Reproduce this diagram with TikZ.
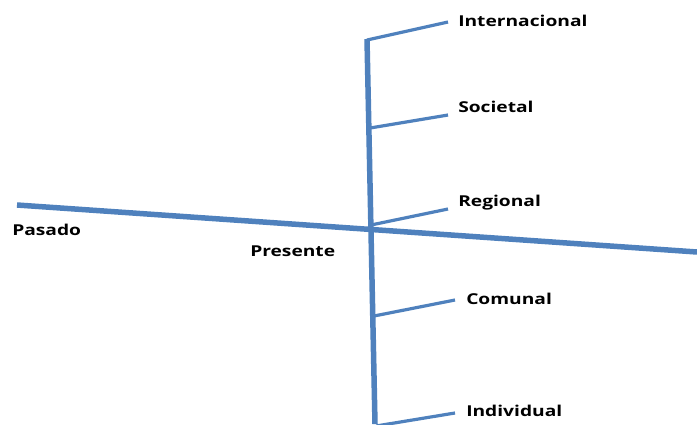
\documentclass[tikz,border=0pt]{standalone}
\usepackage{fontspec}
\setmainfont{Open Sans}
\definecolor{lineblue}{HTML}{4F81BD}
\tikzset{
  axis/.style={draw=lineblue, line width=5.5pt},
  branch/.style={draw=lineblue, line width=3.2pt},
  lbl/.style={anchor=west, inner sep=0pt, xscale=1.28, transform shape,
    font=\bfseries\fontsize{15}{18}\selectfont}
}
\begin{document}
\begin{tikzpicture}[x=1pt, y=-1pt]
\useasboundingbox (0,0) rectangle (697,424);
% axes
\coordinate (h1) at (17,205);
\coordinate (h2) at (697,252);
\coordinate (v1) at (367,39);
\coordinate (v2) at (375,424);
\draw[axis] (h1) -- (h2);
\draw[axis] (v1) -- (v2);
% branch points
\coordinate (b1) at (367,40);
\coordinate (e1) at (448,22);
\coordinate (b2) at (370,128);
\coordinate (e2) at (448,115);
\coordinate (b3) at (371,225);
\coordinate (e3) at (448,209);
\coordinate (b4) at (374,316);
\coordinate (e4) at (455,300);
\coordinate (b5) at (376,426);
\coordinate (e5) at (455,413);
\draw[branch] (b1) -- (e1);
\draw[branch] (b2) -- (e2);
\draw[branch] (b3) -- (e3);
\draw[branch] (b4) -- (e4);
\draw[branch] (b5) -- (e5);
% labels
\node[lbl] (internacional) at (458,21) {Internacional};
\node[lbl] (societal) at (458,107) {Societal};
\node[lbl] (regional) at (458,203) {Regional};
\node[lbl] (comunal) at (466,299) {Comunal};
\node[lbl] (individual) at (466,411) {Individual};
\node[lbl] (pasado) at (12,230) {Pasado};
\node[lbl] (presente) at (250,251) {Presente};
\end{tikzpicture}
\end{document}
